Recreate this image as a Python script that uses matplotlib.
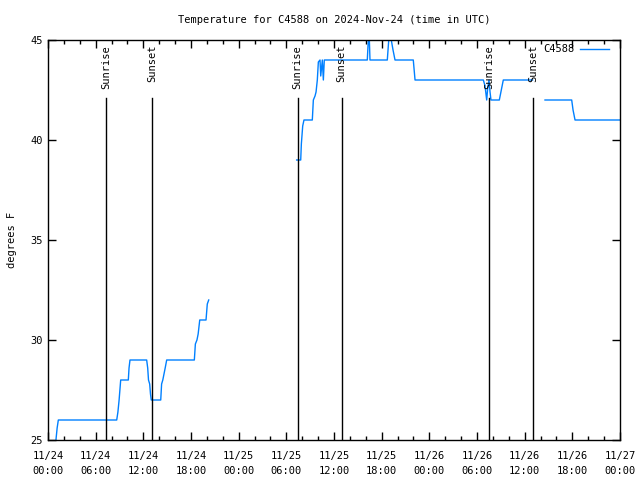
import numpy as np
import pandas as pd
import matplotlib
matplotlib.use("Agg")
import matplotlib.pyplot as plt
import matplotlib.dates as mdates
import matplotlib.transforms as mtransforms

plt.rcParams['font.family'] = ['DejaVu Sans Mono']
plt.rcParams['font.size'] = 7

start = pd.Timestamp("2024-11-24 00:00")

# hours since 11/24 00:00 and temperature (F); NaN breaks the line at gaps
hours = [1.00, 1.15, 1.30, 8.65, 8.80, 8.95, 9.05, 9.15, 10.11, 10.20, 10.32,
         12.42, 12.55, 12.65, 12.80, 12.90, 13.00, 14.19, 14.30, 14.45, 14.75, 14.94,
         18.42, 18.55, 18.75, 18.90, 19.10, 19.89, 20.05, 20.23,
         25.0,
         31.30, 31.81, 31.89, 32.06, 32.22, 33.27, 33.40, 33.61, 33.74, 33.90, 34.03,
         34.24, 34.33, 34.53, 34.66, 34.78, 40.19, 40.32, 40.45, 40.53, 42.71, 42.89,
         43.05, 43.21, 43.43, 43.68, 45.98, 46.20, 54.80, 55.01, 55.22, 55.35, 55.51,
         55.64, 55.76, 56.81, 57.31, 60.99,
         61.8,
         62.56, 65.92, 66.09, 66.34, 71.95]
temps = [25.0, 25.6, 26.0, 26.0, 26.4, 27.0, 27.5, 28.0, 28.0, 28.6, 29.0,
         29.0, 28.6, 28.0, 27.8, 27.3, 27.0, 27.0, 27.8, 28.0, 28.6, 29.0,
         29.0, 29.8, 30.0, 30.3, 31.0, 31.0, 31.8, 32.0,
         np.nan,
         39.0, 39.0, 39.8, 40.7, 41.0, 41.0, 42.0, 42.2, 42.4, 43.0, 43.9,
         44.0, 43.2, 44.0, 43.0, 44.0, 44.0, 45.0, 45.0, 44.0, 44.0, 45.0,
         45.0, 45.0, 44.5, 44.0, 44.0, 43.0, 43.0, 42.7, 42.0, 42.6, 43.0,
         42.4, 42.0, 42.0, 43.0, 43.0,
         np.nan,
         42.0, 42.0, 41.5, 41.0, 41.0]

sunrise_hours = [7.30, 31.43, 55.51]
sunset_hours = [13.09, 36.97, 61.05]

times = [start + pd.Timedelta(hours=h) for h in hours]

fig = plt.figure(figsize=(6.4, 4.8), dpi=100)
ax = fig.add_axes([48 / 640, 40 / 480, 572 / 640, 400 / 480])

ax.plot(times, temps, color='#0080ff', lw=1, label='C4588')

trans = mtransforms.blended_transform_factory(ax.transData, ax.transAxes)
for hs, name in [(sunrise_hours, 'Sunrise'), (sunset_hours, 'Sunset')]:
    for h in hs:
        t = mdates.date2num(start + pd.Timedelta(hours=h))
        ax.plot([t, t], [0, 0.855], color='black', lw=1, transform=trans)
        ax.text(t, 0.9875, name, rotation=90, ha='center', va='top',
                transform=trans, fontsize=7.5)

ax.set_xlim(start, start + pd.Timedelta(hours=72))
ax.set_ylim(25, 45)
ax.set_yticks([25, 30, 35, 40, 45])

ax.xaxis.set_major_locator(mdates.HourLocator(byhour=[0, 6, 12, 18]))
ax.xaxis.set_minor_locator(mdates.HourLocator(byhour=range(0, 24, 2)))
ax.xaxis.set_major_formatter(mdates.DateFormatter('%m/%d\n%H:%M'))

ax.tick_params(which='both', direction='in', top=True, right=True, labelsize=7.5)
ax.tick_params(which='major', length=6, width=1)
ax.tick_params(which='minor', length=3, width=1)
ax.tick_params(axis='x', pad=8)
for lbl in ax.get_xticklabels():
    lbl.set_linespacing(1.6)
for s in ax.spines.values():
    s.set_linewidth(1)

ax.set_ylabel('degrees F', fontsize=7.5, labelpad=10)
ax.set_title('Temperature for C4588 on 2024-Nov-24 (time in UTC)', fontsize=7.5, pad=12)

leg = ax.legend(loc='upper right', bbox_to_anchor=(0.986, 0.997), frameon=False,
                handlelength=2.8, fontsize=7.5, markerfirst=False,
                borderaxespad=0.0, borderpad=0.3, handletextpad=0.5)

fig.savefig('out.png', dpi=100)
